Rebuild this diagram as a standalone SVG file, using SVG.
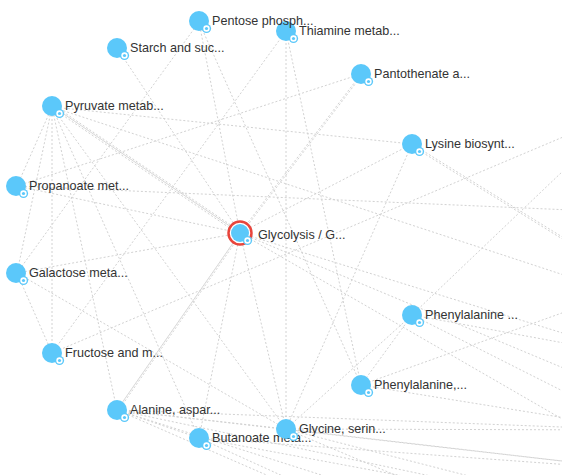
<svg xmlns="http://www.w3.org/2000/svg" width="562" height="475" viewBox="0 0 562 475">
<style>
.e{stroke:#d2d2d2;stroke-width:1;stroke-dasharray:2,2;fill:none}
.es{stroke:#d8d8d8;stroke-width:1;fill:none}
.n{fill:#5bc8fa}
.bo{fill:#5bc8fa}
.bi{fill:#fff}
.lb{font-family:"Liberation Sans",Arial,sans-serif;font-size:12.6px;fill:#333}
</style>
<defs>
<g id="badge"><circle class="bo" r="4.6"/><circle class="bi" r="3.2"/><circle class="bo" r="1.6"/></g>
</defs>
<rect width="562" height="475" fill="#fff"/>
<g id="edges">
<line class="es" x1="52" y1="106" x2="240" y2="233"/>
<line class="e" x1="52" y1="108" x2="240" y2="235"/>
<line class="e" x1="53" y1="105" x2="241" y2="232"/>
<line class="es" x1="117" y1="410" x2="240" y2="233"/>
<line class="e" x1="118" y1="411" x2="241" y2="234"/>
<line class="e" x1="199" y1="22" x2="17" y2="273"/>
<line class="e" x1="199" y1="22" x2="240" y2="233"/>
<line class="e" x1="199" y1="22" x2="361" y2="385"/>
<line class="e" x1="117" y1="48" x2="240" y2="233"/>
<line class="e" x1="52" y1="107" x2="412" y2="144"/>
<line class="e" x1="52" y1="107" x2="17" y2="186"/>
<line class="e" x1="52" y1="107" x2="52" y2="353"/>
<line class="e" x1="52" y1="107" x2="117" y2="410"/>
<line class="e" x1="52" y1="107" x2="17" y2="273"/>
<line class="e" x1="52" y1="107" x2="199" y2="438"/>
<line class="e" x1="52" y1="107" x2="286" y2="429"/>
<line class="e" x1="52" y1="107" x2="640" y2="300"/>
<line class="e" x1="361" y1="74" x2="17" y2="186"/>
<line class="e" x1="361" y1="74" x2="240" y2="233"/>
<line class="e" x1="362" y1="75" x2="241" y2="234"/>
<line class="e" x1="412" y1="144" x2="240" y2="233"/>
<line class="e" x1="412" y1="144" x2="286" y2="429"/>
<line class="e" x1="412" y1="144" x2="640" y2="285"/>
<line class="e" x1="412" y1="146" x2="640" y2="287"/>
<line class="e" x1="286" y1="31" x2="286" y2="429"/>
<line class="e" x1="286" y1="31" x2="361" y2="385"/>
<line class="e" x1="286" y1="31" x2="52" y2="353"/>
<line class="e" x1="17" y1="186" x2="240" y2="233"/>
<line class="e" x1="17" y1="186" x2="640" y2="213"/>
<line class="e" x1="17" y1="273" x2="52" y2="353"/>
<line class="e" x1="17" y1="273" x2="240" y2="233"/>
<line class="e" x1="17" y1="273" x2="286" y2="429"/>
<line class="e" x1="52" y1="353" x2="627" y2="110"/>
<line class="e" x1="412" y1="315" x2="627" y2="110"/>
<line class="e" x1="412" y1="315" x2="361" y2="385"/>
<line class="e" x1="412" y1="315" x2="640" y2="430"/>
<line class="e" x1="412" y1="315" x2="640" y2="357"/>
<line class="e" x1="361" y1="385" x2="640" y2="430"/>
<line class="e" x1="361" y1="385" x2="640" y2="285"/>
<line class="e" x1="240" y1="233" x2="640" y2="357"/>
<line class="e" x1="240" y1="233" x2="640" y2="464"/>
<line class="e" x1="240" y1="233" x2="640" y2="400"/>
<line class="e" x1="240" y1="233" x2="286" y2="429"/>
<line class="e" x1="240" y1="233" x2="199" y2="438"/>
<line class="e" x1="117" y1="410" x2="199" y2="438"/>
<line class="e" x1="117" y1="410" x2="286" y2="429"/>
<line class="e" x1="117" y1="410" x2="640" y2="470"/>
<line class="e" x1="117" y1="410" x2="640" y2="520"/>
<line class="e" x1="117" y1="410" x2="620" y2="570"/>
<line class="e" x1="117" y1="410" x2="600" y2="620"/>
<line class="e" x1="117" y1="410" x2="640" y2="430"/>
<line class="e" x1="199" y1="438" x2="640" y2="470"/>
<line class="e" x1="199" y1="438" x2="640" y2="520"/>
<line class="e" x1="199" y1="438" x2="600" y2="620"/>
<line class="e" x1="286" y1="429" x2="640" y2="470"/>
<line class="e" x1="286" y1="429" x2="640" y2="430"/>
<line class="e" x1="286" y1="429" x2="640" y2="520"/>
<line class="e" x1="286" y1="429" x2="620" y2="570"/>
<line class="e" x1="286" y1="429" x2="412" y2="315"/>
</g>
<g id="node-thiamine"><circle class="n" cx="286" cy="31" r="10"/><use href="#badge" x="293.5" y="38.5"/><text class="lb" x="299" y="35">Thiamine metab...</text></g>
<g id="node-pentose"><circle class="n" cx="199" cy="21" r="10"/><use href="#badge" x="206.5" y="28.5"/><text class="lb" x="212" y="25">Pentose phosph...</text></g>
<g id="node-starch"><circle class="n" cx="117" cy="48" r="10"/><use href="#badge" x="124.5" y="55.5"/><text class="lb" x="130" y="52">Starch and suc...</text></g>
<g id="node-pantothenate"><circle class="n" cx="361" cy="74" r="10"/><use href="#badge" x="368.5" y="81.5"/><text class="lb" x="374" y="78">Pantothenate a...</text></g>
<g id="node-pyruvate"><circle class="n" cx="52" cy="106" r="10"/><use href="#badge" x="59.5" y="113.5"/><text class="lb" x="65" y="110">Pyruvate metab...</text></g>
<g id="node-lysine"><circle class="n" cx="412" cy="144" r="10"/><use href="#badge" x="419.5" y="151.5"/><text class="lb" x="425" y="148">Lysine biosynt...</text></g>
<g id="node-propanoate"><circle class="n" cx="16" cy="186" r="10"/><use href="#badge" x="23.5" y="193.5"/><text class="lb" x="29" y="190">Propanoate met...</text></g>
<g id="node-glycolysis"><circle cx="240" cy="233" r="11.5" fill="#fff" stroke="#e8453c" stroke-width="2.5"/><circle class="n" cx="240" cy="233" r="9"/><use href="#badge" x="247.5" y="240.5"/><text class="lb" x="258" y="239">Glycolysis / G...</text></g>
<g id="node-galactose"><circle class="n" cx="16" cy="273" r="10"/><use href="#badge" x="23.5" y="280.5"/><text class="lb" x="29" y="277">Galactose meta...</text></g>
<g id="node-phenylalanine1"><circle class="n" cx="412" cy="315" r="10"/><use href="#badge" x="419.5" y="322.5"/><text class="lb" x="425" y="319">Phenylalanine ...</text></g>
<g id="node-fructose"><circle class="n" cx="52" cy="353" r="10"/><use href="#badge" x="59.5" y="360.5"/><text class="lb" x="65" y="357">Fructose and m...</text></g>
<g id="node-phenylalanine2"><circle class="n" cx="361" cy="385" r="10"/><use href="#badge" x="368.5" y="392.5"/><text class="lb" x="374" y="389">Phenylalanine,...</text></g>
<g id="node-alanine"><circle class="n" cx="117" cy="410" r="10"/><use href="#badge" x="124.5" y="417.5"/><text class="lb" x="130" y="414">Alanine, aspar...</text></g>
<g id="node-butanoate"><circle class="n" cx="199" cy="438" r="10"/><use href="#badge" x="206.5" y="445.5"/><text class="lb" x="212" y="442">Butanoate meta...</text></g>
<g id="node-glycine"><circle class="n" cx="286" cy="429" r="10"/><use href="#badge" x="293.5" y="436.5"/><text class="lb" x="299" y="433">Glycine, serin...</text></g>
</svg>
